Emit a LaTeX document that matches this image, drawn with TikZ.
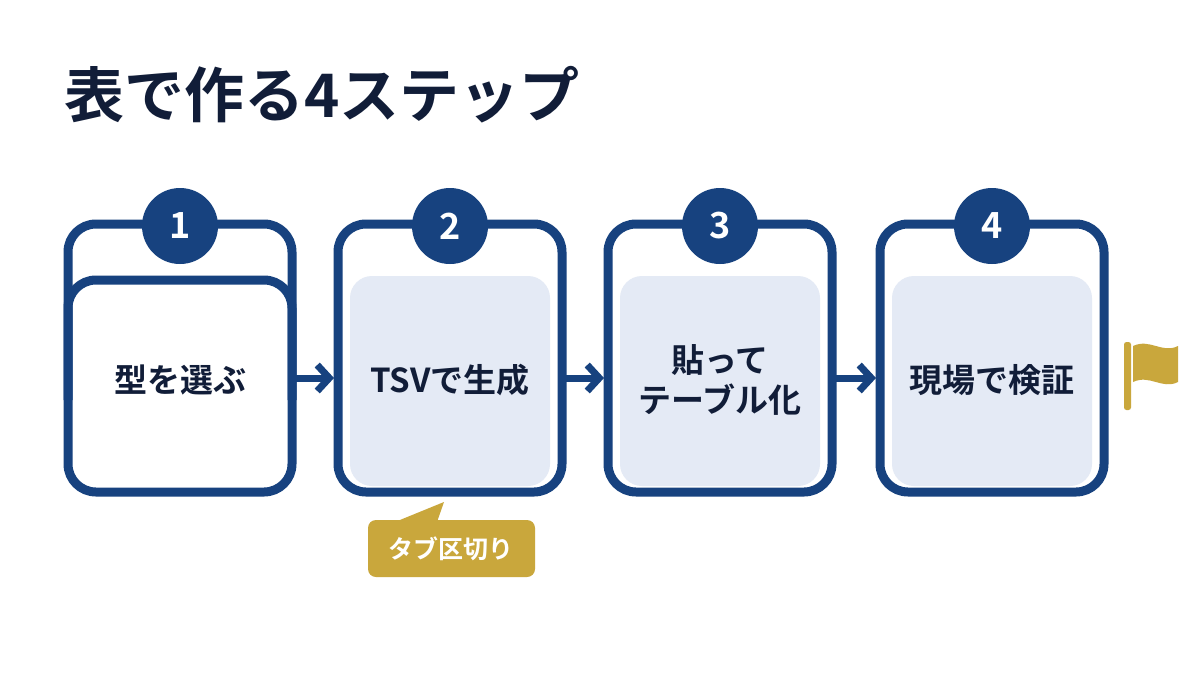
\documentclass[tikz,border=0pt]{standalone}
\usepackage{fontspec}
\setmainfont{Noto Sans CJK JP}[BoldFont={* Bold}]
\usetikzlibrary{arrows.meta}
\definecolor{navy}{HTML}{17427F}
\definecolor{ink}{HTML}{111D38}
\definecolor{pale}{HTML}{E4EAF5}
\definecolor{gold}{HTML}{C9A73C}
\begin{document}
\begin{tikzpicture}[x=1pt,y=-1pt,
  card/.style={draw=navy,line width=9pt,rounded corners=28pt,fill=white},
  panel/.style={fill=pale,rounded corners=22pt},
  badge/.style={circle,fill=navy,minimum size=76pt,inner sep=0pt,text=white,font=\bfseries\fontsize{36}{36}\selectfont},
  lbl/.style={text=ink,font=\bfseries\fontsize{33}{40}\selectfont,align=center},
  arr/.style={draw=navy,line width=7pt,-{Straight Barb[length=12pt,width=26pt,line width=7pt]}}]
\useasboundingbox (0,0) rectangle (1200,675);
\fill[white] (0,0) rectangle (1200,675);
\node[anchor=west,text=ink,font=\bfseries\fontsize{60}{60}\selectfont,inner sep=0pt] (title) at (64,95) {表で作る4ステップ};
% cards
\foreach \i/\x in {1/68,2/338,3/608,4/880}{
  \draw[card] (\x,224) rectangle ++(224,268);
  \coordinate (c\i) at (\x+112,380);
  \coordinate (w\i) at (\x-4,378);
  \coordinate (e\i) at (\x+228,378);
}
\foreach \x in {338,608,880}{
  \fill[panel] (\x+12,276) rectangle ++(200,210);
}
\draw[navy,line width=9pt,rounded corners=28pt] (68,400) -- (68,280) -- (292,280) -- (292,400);
\foreach \i/\x in {1/68,2/338,3/608,4/880}{
  \node[badge] (b\i) at (\x+112,226) {\i};
}
\node[lbl] (t1) at (c1) {型を選ぶ};
\node[lbl] (t2) at (c2) {TSVで生成};
\node[lbl] (t3) at (c3) {貼って\\テーブル化};
\node[lbl] (t4) at (c4) {現場で検証};
\draw[arr] (e1) -- (w2);
\draw[arr] (e2) -- (w3);
\draw[arr] (e3) -- (w4);
% callout
\fill[gold,rounded corners=8pt] (368,520) rectangle (535,577);
\fill[gold] (395,522) -- (444,502) -- (437,522) -- cycle;
\node[text=white,font=\bfseries\fontsize{25}{25}\selectfont] (tab) at (451,549) {タブ区切り};
% flag
\fill[gold,rounded corners=2.5pt] (1124,342) rectangle (1131,410);
\fill[gold] (1133,346) .. controls (1150,338) and (1162,354) .. (1178,346) -- (1178,382) .. controls (1162,390) and (1150,374) .. (1133,382) -- cycle;
\end{tikzpicture}
\end{document}
